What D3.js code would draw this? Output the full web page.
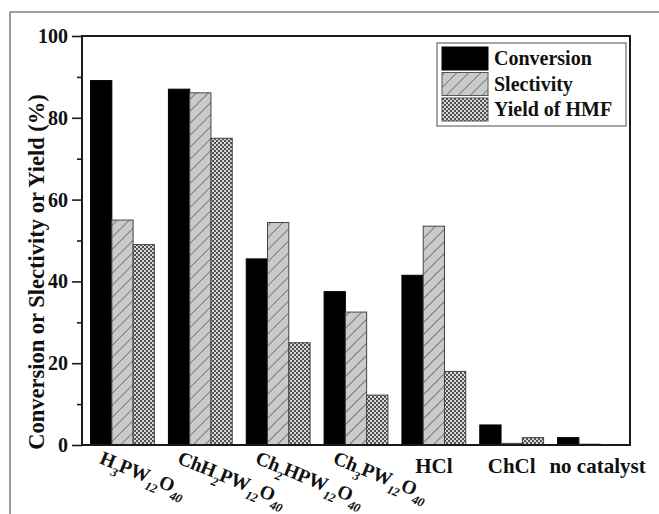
<!DOCTYPE html>
<html><head><meta charset="utf-8">
<script src="https://cdn.jsdelivr.net/npm/d3@7"></script>
<style>body{margin:0;background:#fff}svg{display:block}</style>
</head><body>
<svg id="c" width="659" height="514"></svg>
<script>
const categories = ["H3PW12O40","ChH2PW12O40","Ch2HPW12O40","Ch3PW12O40","HCl","ChCl","no catalyst"];
// label parts: [text, isSubscript]
const categoryLabels = [
  [["H",0],["3",1],["PW",0],["12",1],["O",0],["40",1]],
  [["ChH",0],["2",1],["PW",0],["12",1],["O",0],["40",1]],
  [["Ch",0],["2",1],["HPW",0],["12",1],["O",0],["40",1]],
  [["Ch",0],["3",1],["PW",0],["12",1],["O",0],["40",1]],
  [["HCl",0]],
  [["ChCl",0]],
  [["no catalyst",0]]
];
const seriesNames = ["Conversion","Slectivity","Yield of HMF"];
const conversion  = [89.1, 87.0, 45.5, 37.5, 41.5, 4.9, 1.8];
const selectivity = [55.0, 86.1, 54.4, 32.5, 53.5, 0.4, 0.2];
const yieldHMF    = [49.0, 75.0, 25.0, 12.2, 18.0, 1.8, 0.1];
const yMajorTicks = [0,20,40,60,80,100];
const yMinorTicks = [10,30,50,70,90];
const yTitle = "Conversion or Slectivity or Yield (%)";

const series = [conversion, selectivity, yieldHMF];
const svg = d3.select("#c");
const font = "'Liberation Serif','Times New Roman',serif";

const defs = svg.append("defs");
const hp = defs.append("pattern").attr("id","hatch").attr("patternUnits","userSpaceOnUse")
  .attr("width",8.5).attr("height",8.5).attr("patternTransform","rotate(45)");
hp.append("rect").attr("width",8.5).attr("height",8.5).attr("fill","#cacaca");
hp.append("line").attr("x1",0).attr("y1",0).attr("x2",0).attr("y2",8.5).attr("stroke","#5a5a5a").attr("stroke-width",1.4);
const cp = defs.append("pattern").attr("id","check").attr("patternUnits","userSpaceOnUse").attr("width",4).attr("height",4);
cp.append("rect").attr("width",4).attr("height",4).attr("fill","#d8d8d8");
cp.append("rect").attr("width",2).attr("height",2).attr("fill","#505050");
cp.append("rect").attr("x",2).attr("y",2).attr("width",2).attr("height",2).attr("fill","#505050");
const fills = ["#000","url(#hatch)","url(#check)"];

// outer border lines
svg.append("line").attr("x1",10).attr("y1",12).attr("x2",659).attr("y2",12).attr("stroke","#444").attr("stroke-width",1.2);
svg.append("line").attr("x1",10).attr("y1",12).attr("x2",10).attr("y2",514).attr("stroke","#777").attr("stroke-width",1.5);

const L=82, R=630, T=36, B=445;
const x = d3.scaleBand().domain(categories).range([L,R]).paddingInner(0.18).paddingOuter(0.11);
const xs = d3.scaleBand().domain(d3.range(3)).range([0,x.bandwidth()]);
const y = d3.scaleLinear().domain([0,100]).range([B,T]);

// bars
const g = svg.append("g");
categories.forEach((c,i)=>{
  series.forEach((s,j)=>{
    g.append("rect").attr("x",x(c)+xs(j)).attr("width",xs.bandwidth())
      .attr("y",y(s[i])).attr("height",B-y(s[i]))
      .attr("fill",fills[j]).attr("stroke", j===0?"#000":"#444").attr("stroke-width",1);
  });
});

// frame
svg.append("rect").attr("x",L).attr("y",T).attr("width",R-L).attr("height",B-T)
  .attr("fill","none").attr("stroke","#1a1a1a").attr("stroke-width",2);

// y axis
const ya = svg.append("g").attr("transform",`translate(${L},0)`)
  .call(d3.axisLeft(y).tickValues(yMajorTicks).tickSize(10).tickPadding(4).tickFormat(d3.format("d")));
ya.select(".domain").remove();
ya.selectAll("line").attr("stroke","#1a1a1a").attr("stroke-width",1.6);
ya.selectAll("text").attr("font-family",font).attr("font-weight","bold").attr("font-size",20).attr("fill","#111");
const ym = svg.append("g").attr("transform",`translate(${L},0)`)
  .call(d3.axisLeft(y).tickValues(yMinorTicks).tickSize(5).tickFormat(""));
ym.select(".domain").remove();
ym.selectAll("line").attr("stroke","#1a1a1a").attr("stroke-width",1.6);

// y title
svg.append("text").attr("transform","translate(44,272) rotate(-90)")
  .attr("text-anchor","middle").attr("font-family",font).attr("font-weight","bold")
  .attr("font-size",22.5).attr("fill","#111").text(yTitle);

// x labels
categories.forEach((c,i)=>{
  const parts = categoryLabels[i];
  if (parts.length>1){
    const t = svg.append("text").attr("font-family",font).attr("font-weight","bold").attr("font-size",19.5).attr("fill","#111")
      .attr("letter-spacing",-0.3)
      .attr("transform",`translate(${x(c)+8},463) rotate(22)`);
    parts.forEach(([s,sub],k)=>{
      const ts = t.append("tspan").text(s);
      if (sub) ts.attr("font-size",12.5).attr("font-style","italic").attr("dy",7); else ts.attr("dy", k>0?-7:0);
    });
  } else {
    svg.append("text").attr("font-family",font).attr("font-weight","bold").attr("font-size",21).attr("fill","#111")
      .attr("x",x(c)+x.bandwidth()/2 + (i===6?8:0)).attr("y",473).attr("text-anchor","middle").text(parts[0][0]);
  }
});

// legend
const lg = svg.append("g");
lg.append("rect").attr("x",437).attr("y",43).attr("width",189).attr("height",83)
  .attr("fill","#fff").attr("stroke","#888").attr("stroke-width",1.5);
seriesNames.forEach((n,j)=>{
  const yy = 47 + j*25.5;
  lg.append("rect").attr("x",442).attr("y",yy).attr("width",46).attr("height",23)
    .attr("fill",fills[j]).attr("stroke",j===0?"#000":"#555").attr("stroke-width",1);
  lg.append("text").attr("x",494).attr("y",yy+18).attr("font-family",font).attr("font-weight","bold")
    .attr("font-size",20).attr("fill","#111").text(n);
});
</script>
</body></html>
